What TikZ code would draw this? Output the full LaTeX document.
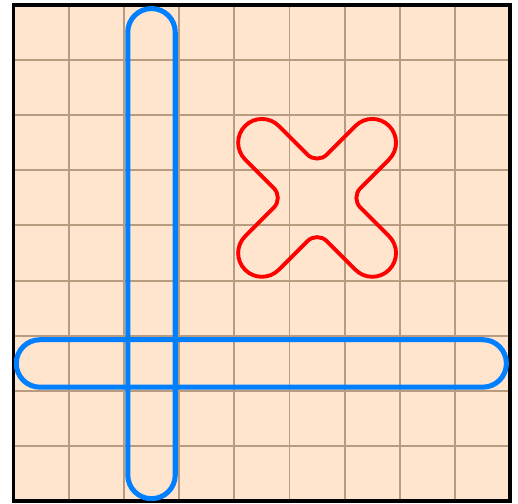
\documentclass[tikz,border=0pt]{standalone}
\usepackage{tikz}
\definecolor{cellfill}{RGB}{255,229,206}
\definecolor{gridline}{RGB}{185,155,128}
\definecolor{barblue}{RGB}{0,128,255}
\definecolor{loopred}{RGB}{255,0,0}

\begin{document}
\begin{tikzpicture}[
    gridrule/.style={draw=gridline,line width=1pt},
    frame/.style={draw=black,line width=2pt},
    bar/.style={draw=barblue,line width=2.6pt,rounded corners=0.429cm},
    blob/.style={draw=loopred,line width=2pt}]
  \useasboundingbox (-0.245,-0.045) rectangle (9.14,9.085);
  \fill[cellfill] (0,0) rectangle (9,9);
  \foreach \i in {1,...,8} {
    \draw[gridrule] (\i,0) -- (\i,9);
    \draw[gridrule] (0,\i) -- (9,\i);
  }
  \draw[frame] (0,0) rectangle (9,9);
  % the two long bars
  \draw[bar] (2.07,0.05) rectangle (2.93,8.93);
  \draw[bar] (0.05,2.07) rectangle (8.93,2.93);
  % the cross-shaped loop
  \def\lobe{0.43}
  \def\notch{0.25}
  \coordinate (tl) at (4.5,6.5);
  \coordinate (tr) at (6.5,6.5);
  \coordinate (br) at (6.5,4.5);
  \coordinate (bl) at (4.5,4.5);
  \coordinate (nt) at (5.5,6.4617);
  \coordinate (nr) at (6.4617,5.5);
  \coordinate (nb) at (5.5,4.5383);
  \coordinate (nl) at (4.5383,5.5);
  \draw[blob] ([shift={(225:\lobe)}]tl) arc[start angle=225,end angle=45,radius=\lobe]
    -- ([shift={(225:\notch)}]nt) arc[start angle=225,end angle=315,radius=\notch]
    -- ([shift={(135:\lobe)}]tr) arc[start angle=135,end angle=-45,radius=\lobe]
    -- ([shift={(135:\notch)}]nr) arc[start angle=135,end angle=225,radius=\notch]
    -- ([shift={(45:\lobe)}]br) arc[start angle=45,end angle=-135,radius=\lobe]
    -- ([shift={(45:\notch)}]nb) arc[start angle=45,end angle=135,radius=\notch]
    -- ([shift={(-45:\lobe)}]bl) arc[start angle=-45,end angle=-225,radius=\lobe]
    -- ([shift={(-45:\notch)}]nl) arc[start angle=-45,end angle=45,radius=\notch]
    -- cycle;
\end{tikzpicture}
\end{document}
